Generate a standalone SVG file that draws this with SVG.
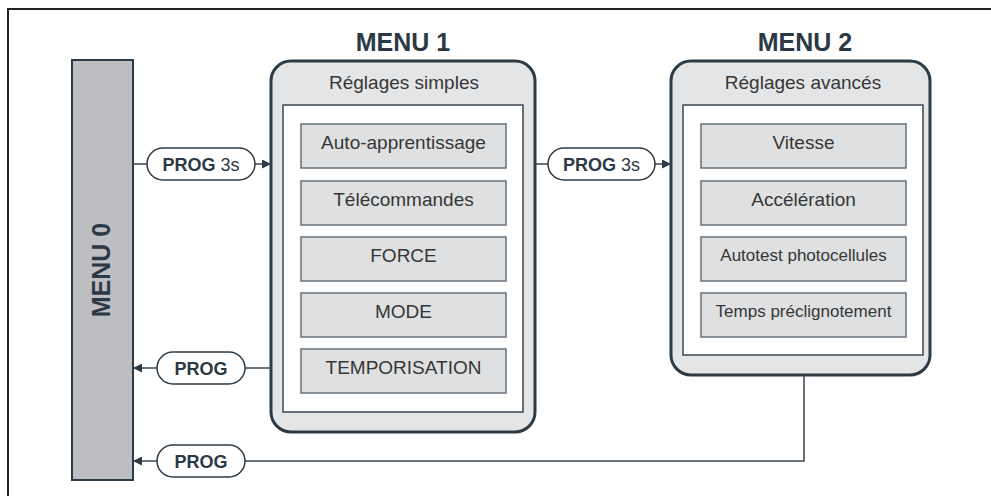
<svg xmlns="http://www.w3.org/2000/svg" width="991" height="496" viewBox="0 0 991 496">
  <defs>
    <marker id="arrow" viewBox="0 0 10 10" refX="10" refY="5" markerWidth="9" markerHeight="9" markerUnits="userSpaceOnUse" orient="auto">
      <path d="M0,0 L10,5 L0,10 z" fill="#2d3b47"/>
    </marker>
    <style>
      .frame { fill: none; stroke: #222; stroke-width: 2; }
      .bar { fill: #bcbec1; stroke: #2d3b47; stroke-width: 2; }
      .menu { fill: #e4e5e7; stroke: #2d3b47; stroke-width: 3; }
      .inner { fill: #ffffff; stroke: #3a4652; stroke-width: 1.5; }
      .item { fill: #dfe0e2; stroke: #66717b; stroke-width: 1.5; }
      .pill { fill: #ffffff; stroke: #2d3b47; stroke-width: 1.5; }
      .conn { fill: none; stroke: #3a4652; stroke-width: 1.5; }
      .head { font-family: "Liberation Sans", Arial, sans-serif; font-weight: bold; font-size: 25px; fill: #2b3946; text-anchor: middle; }
      .sub { font-family: "Liberation Sans", Arial, sans-serif; font-size: 19px; fill: #363636; text-anchor: middle; }
      .txt { font-family: "Liberation Sans", Arial, sans-serif; font-size: 19px; fill: #363636; text-anchor: middle; }
      .small { font-size: 17px; }
      .pt { font-family: "Liberation Sans", Arial, sans-serif; font-size: 18px; fill: #2b3946; text-anchor: middle; }
      .b { font-weight: bold; }
    </style>
  </defs>

  <rect class="frame" x="8" y="9" width="1000" height="500"/>

  <g id="menu0">
    <rect class="bar" x="72" y="60" width="61" height="420"/>
    <text class="head" transform="translate(110,270) rotate(-90)" x="0" y="0">MENU 0</text>
  </g>

  <g id="menu1">
    <text class="head" x="403" y="51">MENU 1</text>
    <rect class="menu" x="271" y="61" width="264" height="371" rx="20" ry="20"/>
    <text class="sub" x="404" y="89">Réglages simples</text>
    <rect class="inner" x="283" y="105" width="240" height="307"/>
    <g id="m1-item1"><rect class="item" x="301" y="124" width="205" height="44"/><text class="txt" x="403.5" y="149">Auto-apprentissage</text></g>
    <g id="m1-item2"><rect class="item" x="301" y="181" width="205" height="44"/><text class="txt" x="403.5" y="206">Télécommandes</text></g>
    <g id="m1-item3"><rect class="item" x="301" y="237" width="205" height="44"/><text class="txt" x="403.5" y="262">FORCE</text></g>
    <g id="m1-item4"><rect class="item" x="301" y="293" width="205" height="44"/><text class="txt" x="403.5" y="318">MODE</text></g>
    <g id="m1-item5"><rect class="item" x="301" y="349" width="205" height="44"/><text class="txt" x="403.5" y="374">TEMPORISATION</text></g>
  </g>

  <g id="menu2">
    <text class="head" x="805" y="51">MENU 2</text>
    <rect class="menu" x="671" y="61" width="259" height="314" rx="20" ry="20"/>
    <text class="sub" x="803" y="89">Réglages avancés</text>
    <rect class="inner" x="683" y="105" width="240" height="250"/>
    <g id="m2-item1"><rect class="item" x="701" y="124" width="205" height="44"/><text class="txt" x="803.5" y="149">Vitesse</text></g>
    <g id="m2-item2"><rect class="item" x="701" y="181" width="205" height="44"/><text class="txt" x="803.5" y="206">Accélération</text></g>
    <g id="m2-item3"><rect class="item" x="701" y="237" width="205" height="44"/><text class="txt small" x="803.5" y="261">Autotest photocellules</text></g>
    <g id="m2-item4"><rect class="item" x="701" y="293" width="205" height="44"/><text class="txt small" x="803.5" y="317">Temps préclignotement</text></g>
  </g>

  <g id="connectors">
    <line class="conn" x1="133" y1="164" x2="147" y2="164"/>
    <line class="conn" x1="255" y1="164" x2="271" y2="164" marker-end="url(#arrow)"/>
    <line class="conn" x1="535" y1="164" x2="548" y2="164"/>
    <line class="conn" x1="655" y1="164" x2="671" y2="164" marker-end="url(#arrow)"/>
    <line class="conn" x1="271" y1="368" x2="245" y2="368"/>
    <line class="conn" x1="157" y1="368" x2="133" y2="368" marker-end="url(#arrow)"/>
    <polyline class="conn" points="804,375 804,461 245,461"/>
    <line class="conn" x1="157" y1="461" x2="133" y2="461" marker-end="url(#arrow)"/>
  </g>

  <g id="pill-prog3s-1">
    <rect class="pill" x="147" y="148" width="108" height="32" rx="16" ry="16"/>
    <text class="pt" x="201" y="171"><tspan class="b">PROG</tspan> 3s</text>
  </g>
  <g id="pill-prog3s-2">
    <rect class="pill" x="548" y="148" width="107" height="32" rx="16" ry="16"/>
    <text class="pt" x="601.5" y="171"><tspan class="b">PROG</tspan> 3s</text>
  </g>
  <g id="pill-prog-1">
    <rect class="pill" x="157" y="352" width="88" height="32" rx="16" ry="16"/>
    <text class="pt b" x="201" y="375">PROG</text>
  </g>
  <g id="pill-prog-2">
    <rect class="pill" x="157" y="445" width="88" height="32" rx="16" ry="16"/>
    <text class="pt b" x="201" y="468">PROG</text>
  </g>
</svg>
